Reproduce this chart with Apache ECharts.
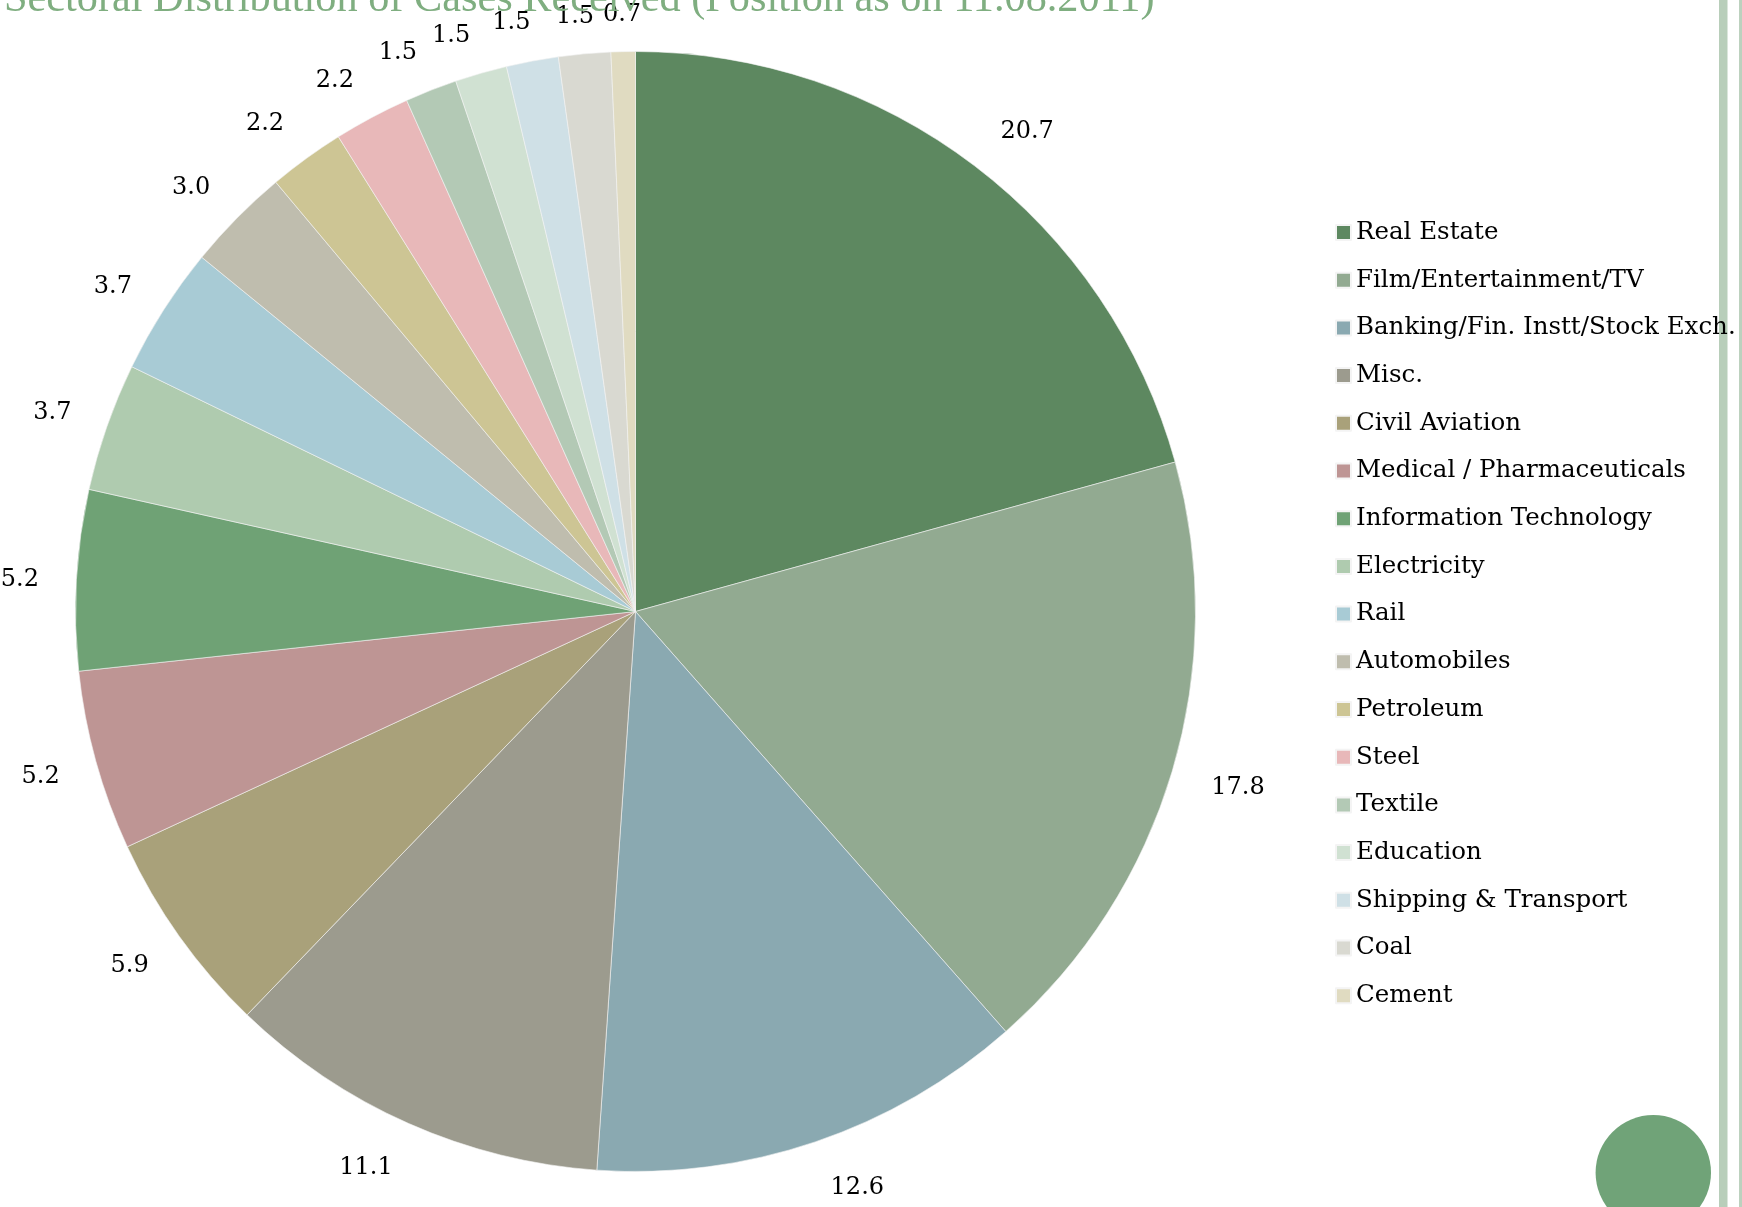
<!DOCTYPE html>
<html><head><meta charset="utf-8">
<script src="https://cdn.jsdelivr.net/npm/echarts@6/dist/echarts.min.js"></script>
<style>html,body{margin:0;padding:0;background:#fff}#c{width:1742px;height:1207px}</style>
</head><body><div id="c"></div>
<script>
const titleText = 'Sectoral Distribution of Cases Received (Position as on 11.08.2011)';
const categories = ['Real Estate','Film/Entertainment/TV','Banking/Fin. Instt/Stock Exch.','Misc.','Civil Aviation','Medical / Pharmaceuticals','Information Technology','Electricity','Rail','Automobiles','Petroleum','Steel','Textile','Education','Shipping & Transport','Coal','Cement'];
const values = [20.7,17.8,12.6,11.1,5.9,5.2,5.2,3.7,3.7,3.0,2.2,2.2,1.5,1.5,1.5,1.5,0.7];
const colors = ['#5d8860','#92aa91','#8aa9b1','#9c9b8e','#a9a17a','#be9594','#6fa275','#afcbaf','#a8cbd5','#bfbdae','#cdc594','#e8b8b9','#b3c9b5','#d0e1d2','#cfe0e6','#d9d9d1','#e0dbc1'];

const chart = echarts.init(document.getElementById('c'), null, {renderer:'canvas'});
const LEGEND_FONT = 24.5;
const option = {
  animation:false,
  backgroundColor:'#ffffff',
  title:{text:titleText,left:4,top:-21,padding:0,
    textStyle:{fontFamily:'Liberation Serif',fontSize:42.3,fontWeight:'normal',color:'#7fae80',lineHeight:42}},
  legend:{orient:'vertical',left:1335,top:220,padding:0,itemWidth:15,itemHeight:15,
    itemGap:47.2-LEGEND_FONT,icon:'rect',
    selectedMode:false,data:categories,
    textStyle:{fontFamily:'DejaVu Serif',fontSize:LEGEND_FONT,color:'#000'}},
  series:[{
    type:'pie',center:[635.5,611.5],radius:560,startAngle:90,clockwise:true,
    avoidLabelOverlap:false,
    data:categories.map((n,i)=>({name:n,value:values[i],itemStyle:{color:colors[i]}})),
    label:{show:true,position:'outside',formatter:p=>p.value.toFixed(1),
      fontFamily:'DejaVu Serif',fontSize:24,color:'#000',lineHeight:20},
    labelLine:{show:true,length:37,length2:0,lineStyle:{width:0,opacity:0}},
    labelLayout:function(p){
      const pts=p.labelLinePoints;
      if(!pts||pts.length<2) return {};
      const dx=pts[1][0]-pts[0][0], dy=pts[1][1]-pts[0][1];
      const len=Math.hypot(dx,dy)||1;
      const ux=dx/len, uy=dy/len;
      const w=p.labelRect.width;
      const side=Math.sign(ux)*Math.min(1,4*Math.abs(ux))*(w/2+2);
      const yOff = uy>=0 ? 4.5+6.5*uy : 2.3+1.8*uy-11*Math.abs(ux*uy);
      return {x:pts[1][0]+side+1.5,y:pts[1][1]+yOff,align:'center',verticalAlign:'middle'};
    },
    itemStyle:{borderColor:'#f4f4f4',borderWidth:0.6},
    emphasis:{disabled:true}
  }],
  graphic:[
    {type:'rect',shape:{x:1719,y:0,width:8.5,height:1207},style:{fill:'#b8ceba'},silent:true},
    {type:'rect',shape:{x:1739,y:0,width:3,height:1207},style:{fill:'#bcd1be'},silent:true},
    {type:'circle',shape:{cx:1653.3,cy:1172.7,r:57.7},style:{fill:'#70a378'},silent:true}
  ]
};
chart.setOption(option);
</script></body></html>
